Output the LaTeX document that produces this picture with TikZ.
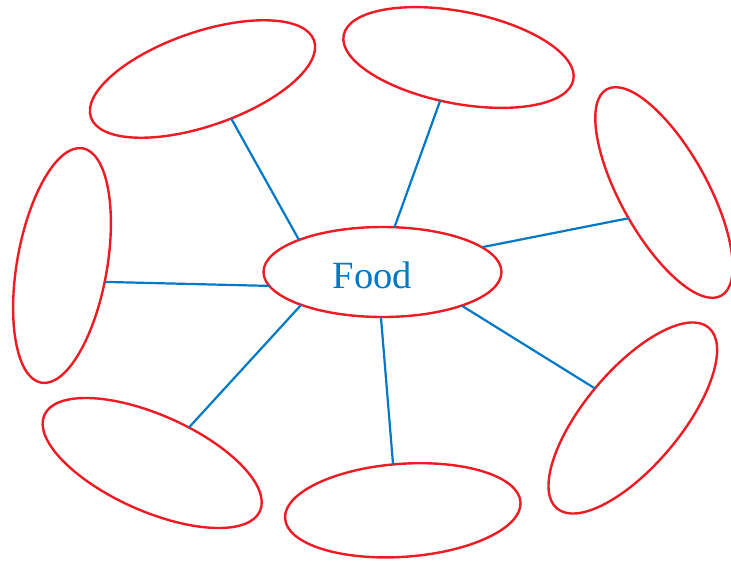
\documentclass[tikz,border=0pt]{standalone}
\usepackage{fontspec}
\setmainfont{Liberation Serif}
\usetikzlibrary{shapes.geometric}
\definecolor{ered}{RGB}{237,28,36}
\definecolor{lblue}{RGB}{0,120,200}
\tikzset{
  bubble/.style={draw=ered, line width=2.4pt, ellipse, inner sep=0pt, outer sep=0pt},
  link/.style={draw=lblue, line width=2.2pt}
}
\begin{document}
\begin{tikzpicture}[x=1pt,y=-1pt]
\useasboundingbox (0,0) rectangle (731,560);
\node[bubble, minimum width=238pt, minimum height=90pt, text=lblue,
      text height=32pt, text depth=0pt,
      font=\fontsize{38.5}{40}\selectfont] (food) at (382.5,272) {Food\hspace*{20pt}};
\node[bubble, minimum width=236pt, minimum height=94pt, rotate=19]  (e1) at (202.5,79) {};
\node[bubble, minimum width=234pt, minimum height=92pt, rotate=-11] (e2) at (458.5,57.5) {};
\node[bubble, minimum width=236pt, minimum height=87pt, rotate=-61] (e3) at (664,192.5) {};
\node[bubble, minimum width=238pt, minimum height=90pt, rotate=80]  (e4) at (62,265.5) {};
\node[bubble, minimum width=236pt, minimum height=96pt, rotate=-24] (e5) at (152.2,463) {};
\node[bubble, minimum width=236pt, minimum height=93pt, rotate=4]   (e6) at (402.8,510.3) {};
\node[bubble, minimum width=236pt, minimum height=96pt, rotate=50]  (e7) at (632.8,418) {};
\draw[link] (food.159.3) -- (e1.287.4);
\draw[link] (food.75.1)  -- (e2.258.6);
\draw[link] (food.14.2)  -- (e3.277.6);
\draw[link] (food.187.0) -- (e4.259.8);
\draw[link] (food.202.2) -- (e5.68.3);
\draw[link] (food.268.1) -- (e6.98.6);
\draw[link] (food.337.4) -- (e7.92.7);
\end{tikzpicture}
\end{document}
